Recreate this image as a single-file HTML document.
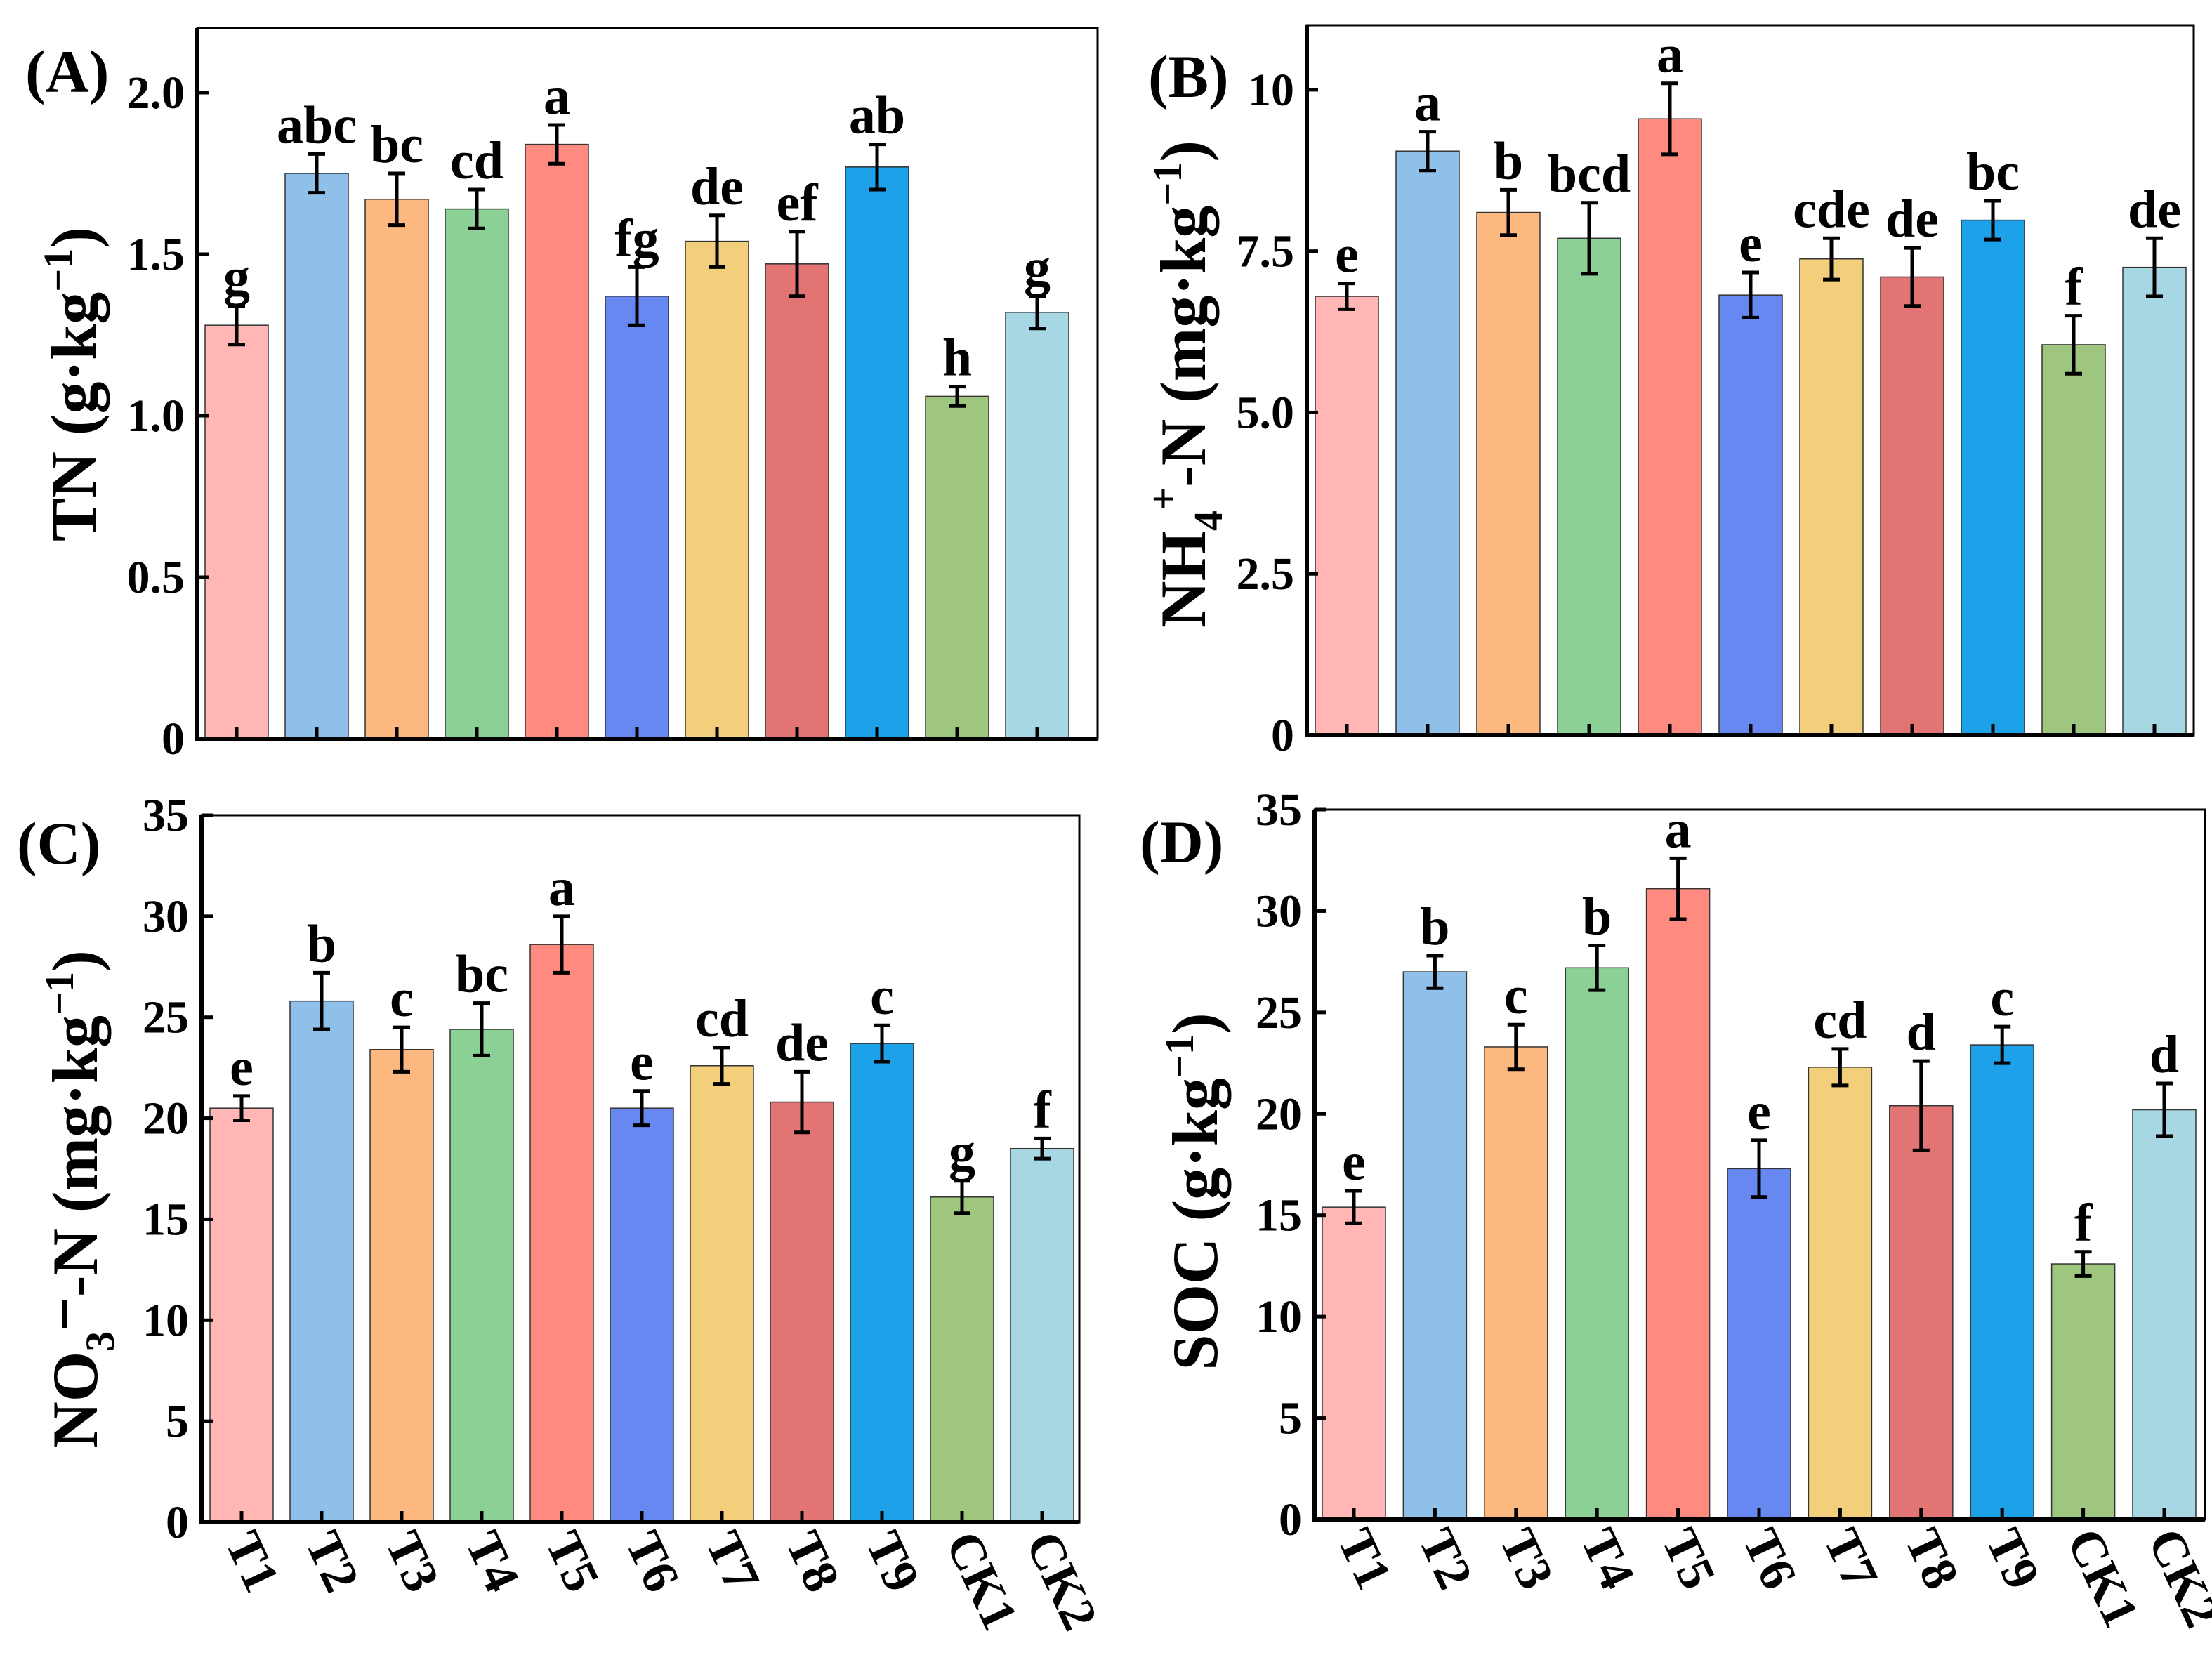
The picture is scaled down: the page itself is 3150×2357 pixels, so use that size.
<!DOCTYPE html>
<html><head><meta charset="utf-8">
<style>
html,body{margin:0;padding:0;background:#fff}
svg{display:block}
text{font-family:"Liberation Serif",serif;font-weight:bold;fill:#000}
</style></head>
<body>
<svg id="fig" width="3150" height="2357" viewBox="0 0 3150 2357" xmlns="http://www.w3.org/2000/svg" font-family="Liberation Serif, serif"></svg>
<script>
const categories = ["T1","T2","T3","T4","T5","T6","T7","T8","T9","CK1","CK2"];
const colors = ["#ffb6b5","#8fc0ea","#fdb880","#8bd196","#ff8a7f","#6688f0","#f3ce7b","#e27574","#1da1e8","#9fc67e","#a6d7e2"];

const tnValues = [1.28,1.75,1.67,1.64,1.84,1.37,1.54,1.47,1.77,1.06,1.32];
const tnErrors = [0.06,0.06,0.08,0.06,0.06,0.09,0.08,0.10,0.07,0.03,0.05];
const tnLetters = ["g","abc","bc","cd","a","fg","de","ef","ab","h","g"];
const tnTicks = [0,0.5,1.0,1.5,2.0];
const tnTickLabels = ["0","0.5","1.0","1.5","2.0"];

const nhValues = [6.8,9.05,8.1,7.7,9.55,6.82,7.38,7.1,7.98,6.05,7.25];
const nhErrors = [0.2,0.3,0.35,0.55,0.55,0.35,0.32,0.45,0.3,0.45,0.45];
const nhLetters = ["e","a","b","bcd","a","e","cde","de","bc","f","de"];
const nhTicks = [0,2.5,5.0,7.5,10];
const nhTickLabels = ["0","2.5","5.0","7.5","10"];

const noValues = [20.5,25.8,23.4,24.4,28.6,20.5,22.6,20.8,23.7,16.1,18.5];
const noErrors = [0.6,1.4,1.1,1.3,1.4,0.85,0.9,1.5,0.9,0.8,0.5];
const noLetters = ["e","b","c","bc","a","e","cd","de","c","g","f"];

const socValues = [15.4,27.0,23.3,27.2,31.1,17.3,22.3,20.4,23.4,12.6,20.2];
const socErrors = [0.8,0.8,1.1,1.1,1.5,1.4,0.9,2.2,0.9,0.6,1.3];
const socLetters = ["e","b","c","b","a","e","cd","d","c","f","d"];

const t35Ticks = [0,5,10,15,20,25,30,35];
const t35TickLabels = ["0","5","10","15","20","25","30","35"];

const NS="http://www.w3.org/2000/svg";
const svg=document.getElementById('fig');
function mk(tag,attrs,parent){const e=document.createElementNS(NS,tag);for(const k in attrs)e.setAttribute(k,attrs[k]);(parent||svg).appendChild(e);return e;}

function panel(cfg){
  const g=mk('g',{});
  
  
  const yScale=v=>cfg.bottom-(v/cfg.max)*(cfg.bottom-cfg.top);
  const xScale=i=>cfg.x0+i*cfg.step;
  cfg.values.forEach((v,i)=>{
    const cx=xScale(i), y=yScale(v);
    const r=mk('rect',{x:cx-45,y:y,width:90,height:cfg.bottom-y,fill:colors[i],stroke:'#333','stroke-width':1.5},g);
    
    
  });
  cfg.values.forEach((v,i)=>{
    const cx=xScale(i), e=cfg.errors[i];
    const yt=yScale(v+e), yb=yScale(v-e);
    const eb=mk('path',{d:`M${cx},${yt}V${yb}M${cx-12},${yt}H${cx+12}M${cx-12},${yb}H${cx+12}`,stroke:'#000','stroke-width':5,fill:'none'},g);
    
    
    const t=mk('text',{x:cx,y:yt-16,'text-anchor':'middle','font-size':76},g);
    t.textContent=cfg.letters[i];
    
    
    const tk=mk('line',{x1:cx,x2:cx,y1:cfg.bottom,y2:cfg.bottom-16,stroke:'#000','stroke-width':5},g);
    
    
  });
  cfg.ticks.forEach((tv,i)=>{
    const y=yScale(tv);
    const l=mk('line',{x1:cfg.left,x2:cfg.left+16,y1:y,y2:y,stroke:'#000','stroke-width':5},g);
    
    
    const t=mk('text',{x:cfg.left-18,y:y+22,'text-anchor':'end','font-size':66},g);
    t.textContent=cfg.tickLabels[i];
    
    
  });
  const f=mk('rect',{x:cfg.left,y:cfg.top,width:cfg.right-cfg.left,height:cfg.bottom-cfg.top,fill:'none',stroke:'#000','stroke-width':3},g);
  
  
  const ax=mk('path',{d:`M${cfg.left},${cfg.top}V${cfg.bottom}H${cfg.right}`,stroke:'#000','stroke-width':6,fill:'none'},g);
  
  
  const pl=mk('text',{x:cfg.labX,y:cfg.labY,'font-size':86},g);
  pl.textContent=cfg.label;
  
  
  const yt=mk('text',{x:0,y:0,'text-anchor':'middle','font-size':92,transform:`translate(${cfg.titleX},${cfg.titleY}) rotate(-90)`},g);
  yt.innerHTML=cfg.title;
  
  
  if(cfg.xlabels){
    categories.forEach((c,i)=>{
      const cx=xScale(i);
      const t=mk('text',{x:0,y:0,'font-size':72,transform:`translate(${cx-24},${cfg.bottom+28}) rotate(65)`},g);
      t.textContent=c;
      
      
    });
  }
}

panel({id:'tn',left:281,right:1563,top:40,bottom:1052,max:2.2,x0:337,step:114,values:tnValues,errors:tnErrors,letters:tnLetters,ticks:tnTicks,tickLabels:tnTickLabels,label:'(A)',labX:36,labY:131,title:'TN (g·kg<tspan dy="-34" font-size="58">−1</tspan><tspan dy="34">)</tspan>',titleX:136,titleY:547});
panel({id:'nh4',left:1861,right:3124,top:36,bottom:1047,max:11,x0:1918,step:115,values:nhValues,errors:nhErrors,letters:nhLetters,ticks:nhTicks,tickLabels:nhTickLabels,label:'(B)',labX:1635,labY:138,title:'NH<tspan dy="24" font-size="58">4</tspan><tspan dy="-64" font-size="58">+</tspan><tspan dy="40">-N (mg·kg</tspan><tspan dy="-34" font-size="58">−1</tspan><tspan dy="34">)</tspan>',titleX:1716,titleY:547});
panel({id:'no3',left:287,right:1537,top:1161,bottom:2168,max:35,x0:344,step:114,values:noValues,errors:noErrors,letters:noLetters,ticks:t35Ticks,tickLabels:t35TickLabels,label:'(C)',labX:24,labY:1230,title:'NO<tspan dy="24" font-size="58">3</tspan><tspan dy="-24">⁻-N (mg·kg</tspan><tspan dy="-34" font-size="58">−1</tspan><tspan dy="34">)</tspan>',titleX:138,titleY:1708,xlabels:true});
panel({id:'soc',left:1872,right:3140,top:1153,bottom:2164,max:35,x0:1928,step:115.4,values:socValues,errors:socErrors,letters:socLetters,ticks:t35Ticks,tickLabels:t35TickLabels,label:'(D)',labX:1623,labY:1228,title:'SOC (g·kg<tspan dy="-34" font-size="58">−1</tspan><tspan dy="34">)</tspan>',titleX:1733,titleY:1697,xlabels:true});
</script>
</body></html>
